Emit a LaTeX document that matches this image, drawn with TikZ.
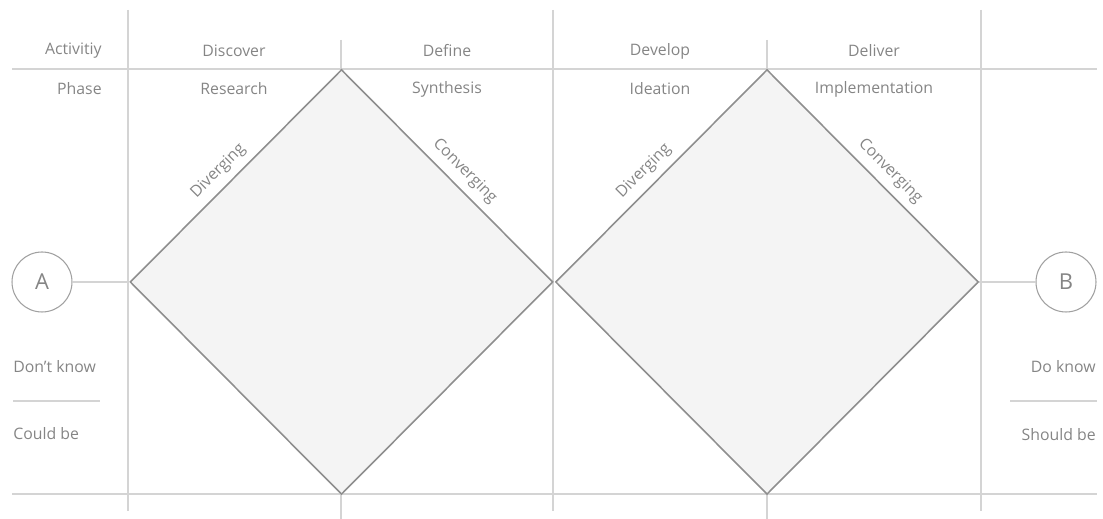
\documentclass[tikz,border=0pt]{standalone}
\usepackage{fontspec}
\setmainfont{Open Sans}
\usetikzlibrary{shapes.geometric}
\definecolor{gridline}{HTML}{D4D4D4}
\definecolor{edgegray}{HTML}{8E8E8E}
\definecolor{ringgray}{HTML}{A0A0A0}
\definecolor{fillgray}{HTML}{F4F4F4}
\definecolor{labelgray}{HTML}{858585}

\begin{document}
\begin{tikzpicture}[
  x=0.02cm, y=-0.02cm,
  font=\fontsize{9}{11}\selectfont, text=labelgray,
  grid/.style={draw=gridline, line width=0.6pt},
  phase/.style={diamond, draw=edgegray, fill=fillgray, line width=0.9pt,
    inner sep=0pt, minimum width=8.46cm, minimum height=8.5cm},
  point/.style={circle, draw=ringgray, line width=0.6pt, minimum size=1.2cm,
    inner sep=0pt, font=\fontsize{12.5}{14}\selectfont},
  tag/.style={sloped, above=3pt, inner sep=1pt},
  side/.style={inner sep=0pt},
]
\useasboundingbox (0,0) rectangle (1103,519);

% grid
\draw[grid] (12,69) -- (1097,69);
\draw[grid] (12,494) -- (1097,494);
\foreach \x in {128,553,981} \draw[grid] (\x,10) -- (\x,511);
\foreach \x in {341,767} \draw[grid] (\x,40) -- (\x,519);
\draw[grid] (13,401) -- (100,401);
\draw[grid] (1010,401) -- (1097,401);

% header
\node[side, anchor=east] (act) at (102,51) {Activitiy};
\node[side, anchor=east] (phs) at (102,89) {Phase};
\node (disc) at (234,51) {Discover};
\node (res) at (234,89) {Research};
\node (defi) at (447,51) {Define};
\node (syn) at (447,89) {Synthesis};
\node (dev) at (660,51) {Develop};
\node (idea) at (660,89) {Ideation};
\node (deli) at (874,51) {Deliver};
\node (impl) at (874,89) {Implementation};

% the two diamonds
\node[phase] (left) at (341.5,282) {};
\node[phase] (right) at (767,282) {};
\path (left.west) -- (left.north) node[tag, pos=0.47] {Diverging};
\path (left.north) -- (left.east) node[tag, pos=0.53] {Converging};
\path (right.west) -- (right.north) node[tag, pos=0.47] {Diverging};
\path (right.north) -- (right.east) node[tag, pos=0.53] {Converging};

% start and end
\node[point] (a) at (42,282) {A};
\node[point] (b) at (1066,282) {B};
\draw[grid] (a) -- (left.west);
\draw[grid] (right.east) -- (b);

\node[side, anchor=west] (dk) at (13,367) {Don't know};
\node[side, anchor=west] (cb) at (13,434) {Could be};
\node[side, anchor=east] (dok) at (1096,367) {Do know};
\node[side, anchor=east] (sb) at (1096,435) {Should be};
\end{tikzpicture}
\end{document}
